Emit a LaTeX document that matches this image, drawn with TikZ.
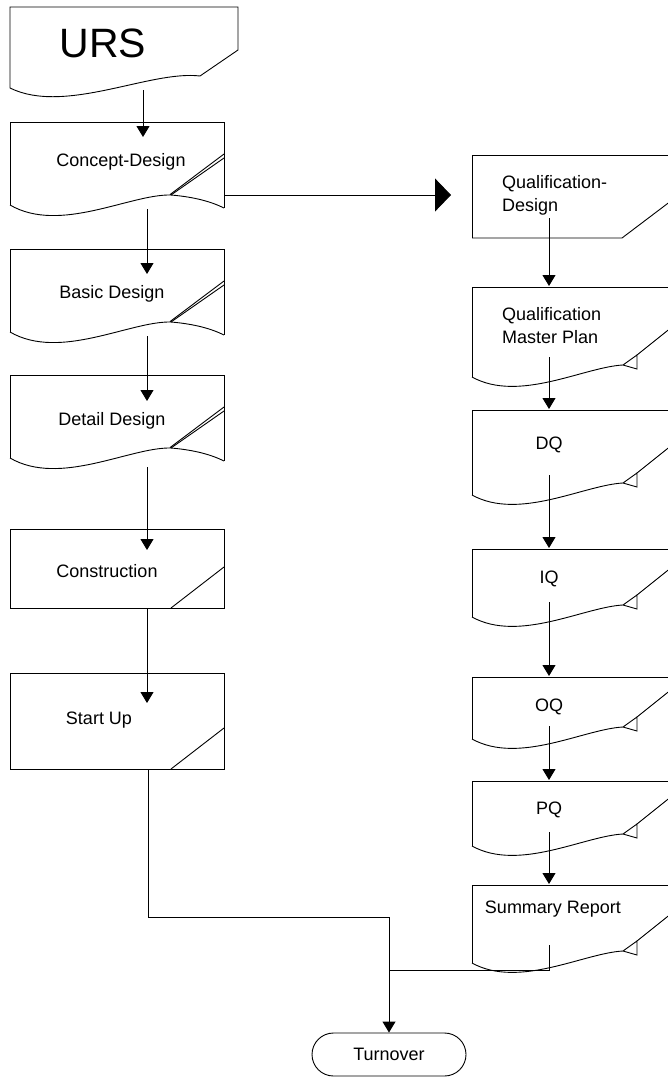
\documentclass[tikz,border=0pt]{standalone}
\usepackage{fontspec}
\setmainfont{Liberation Sans}
\usetikzlibrary{arrows.meta,shapes.misc}
\tikzset{
  shp/.style={draw=black, line width=0.9pt, line join=miter},
  conn/.style={draw=black, line width=0.9pt},
  arr/.style={conn, -{Triangle[length=11pt,width=13pt]}},
  bigarr/.style={conn, -{Triangle[length=16pt,width=33pt]}},
  lbl/.style={font=\fontsize{18}{23}\selectfont, inner sep=0pt, anchor=base},
}
% document shape with folded corner, left column
\newcommand\leftdoc[1]{%
  \begin{scope}[shift={(0,#1)}]
    \path[shp] (10,83) -- (10,0) -- (224,0) -- (224,86);
    \path[shp] (224,32) -- (170,72.6);
    \path[shp] (224,36) -- (171,73);
    \path[shp] (171,73) .. controls (195,75) and (212,80) .. (224,86);
    \path[shp] (10,83) .. controls (60,112) and (130,72) .. (171,73);
  \end{scope}}
% card shape, left column
\newcommand\leftcard[2]{%
  \begin{scope}[shift={(0,#1)}]
    \path[shp] (10,0) rectangle (224,#2);
    \path[shp] (171,#2) -- (224,#2-41);
  \end{scope}}
% document shape, right column (cut by the right border)
\newcommand\rightdoc[2]{%
  \begin{scope}[shift={(0,#1)}]
    \path[shp] (472,#2) -- (472,0) -- (700,0);
    \path[shp] (472,#2) .. controls (519,#2+26) and (584,#2-10) .. (623,#2-12)
       -- (637,#2-22) -- (637,#2-8) -- (623,#2-12);
    \path[shp] (637,#2-22) -- (700,#2-72.4);
  \end{scope}}
\begin{document}
\begin{tikzpicture}[x=1pt,y=-1pt]
\useasboundingbox (0,0) rectangle (668,1077);
\clip (0,0) rectangle (668,1077);

% ---------- shapes, left column
\path[shp] (10,88) -- (10,7) -- (238,7) -- (238,50) -- (200,76)
   .. controls (150,70) and (65,115) .. (10,88) -- cycle;
\leftdoc{122}
\leftdoc{249}
\leftdoc{375}
\leftcard{529}{79}
\leftcard{673}{96}

% ---------- shapes, right column
\path[shp] (472,238) -- (472,155) -- (700,155);
\path[shp] (472,238) -- (622,238) -- (700,179);
\rightdoc{287}{90}
\rightdoc{410}{85}
\rightdoc{549}{68}
\rightdoc{677}{62}
\rightdoc{781}{65}
\rightdoc{885}{78}

% ---------- labels
\node[lbl, font=\fontsize{41}{41}\selectfont] (urs) at (103,57) {URS};
\node[lbl] (cd) at (121,166) {Concept-Design};
\node[lbl] (bd) at (112,298) {Basic Design};
\node[lbl] (dd) at (112,425) {Detail Design};
\node[lbl] (con) at (107,577) {Construction};
\node[lbl] (su) at (99,724) {Start Up};
\node[lbl, anchor=base west, align=left] (qd) at (502,211) {Qualification-\\Design};
\node[lbl, anchor=base west, align=left] (qmp) at (502,343) {Qualification\\Master Plan};
\node[lbl] (dq) at (549,449) {DQ};
\node[lbl] (iq) at (549,583) {IQ};
\node[lbl] (oq) at (549,711) {OQ};
\node[lbl] (pq) at (549,814) {PQ};
\node[lbl] (sr) at (553,913) {Summary Report};
\node[draw, rounded rectangle, line width=0.9pt, minimum width=154pt,
      minimum height=43pt, inner sep=0pt, font=\fontsize{18}{23}\selectfont]
      (to) at (389,1054.5) {Turnover};

% ---------- connector end points
\coordinate (urs-o) at (143,90);  \coordinate (cd-i) at (143,137);
\coordinate (cd-o) at (147,209);  \coordinate (bd-i) at (147,274);
\coordinate (bd-o) at (147,336);  \coordinate (dd-i) at (147,401);
\coordinate (dd-o) at (147,467);  \coordinate (con-i) at (147,550);
\coordinate (con-o) at (147,608); \coordinate (su-i) at (147,703);
\coordinate (su-o) at (148,769);  \coordinate (j1) at (148,917);
\coordinate (j2) at (389,917);
\coordinate (cd-r) at (224,195);  \coordinate (qd-l) at (451,195);
\coordinate (qd-o) at (549,218);  \coordinate (qmp-i) at (549,286);
\coordinate (qmp-o) at (549,357); \coordinate (dq-i) at (549,409);
\coordinate (dq-o) at (549,475);  \coordinate (iq-i) at (549,548);
\coordinate (iq-o) at (549,602);  \coordinate (oq-i) at (549,676);
\coordinate (oq-o) at (549,726);  \coordinate (pq-i) at (549,780);
\coordinate (pq-o) at (549,832);  \coordinate (sr-i) at (549,884);
\coordinate (sr-o) at (549,945);  \coordinate (j3) at (549,970);
\coordinate (j4) at (389,970);

% ---------- connectors
\draw[arr] (urs-o) -- (cd-i);
\draw[arr] (cd-o) -- (bd-i);
\draw[arr] (bd-o) -- (dd-i);
\draw[arr] (dd-o) -- (con-i);
\draw[arr] (con-o) -- (su-i);
\draw[arr] (su-o) -- (j1) -- (j2) -- (to.north);
\draw[bigarr] (cd-r) -- (qd-l);
\draw[arr] (qd-o) -- (qmp-i);
\draw[arr] (qmp-o) -- (dq-i);
\draw[arr] (dq-o) -- (iq-i);
\draw[arr] (iq-o) -- (oq-i);
\draw[arr] (oq-o) -- (pq-i);
\draw[arr] (pq-o) -- (sr-i);
\draw[conn] (sr-o) -- (j3) -- (j4);
\end{tikzpicture}
\end{document}
